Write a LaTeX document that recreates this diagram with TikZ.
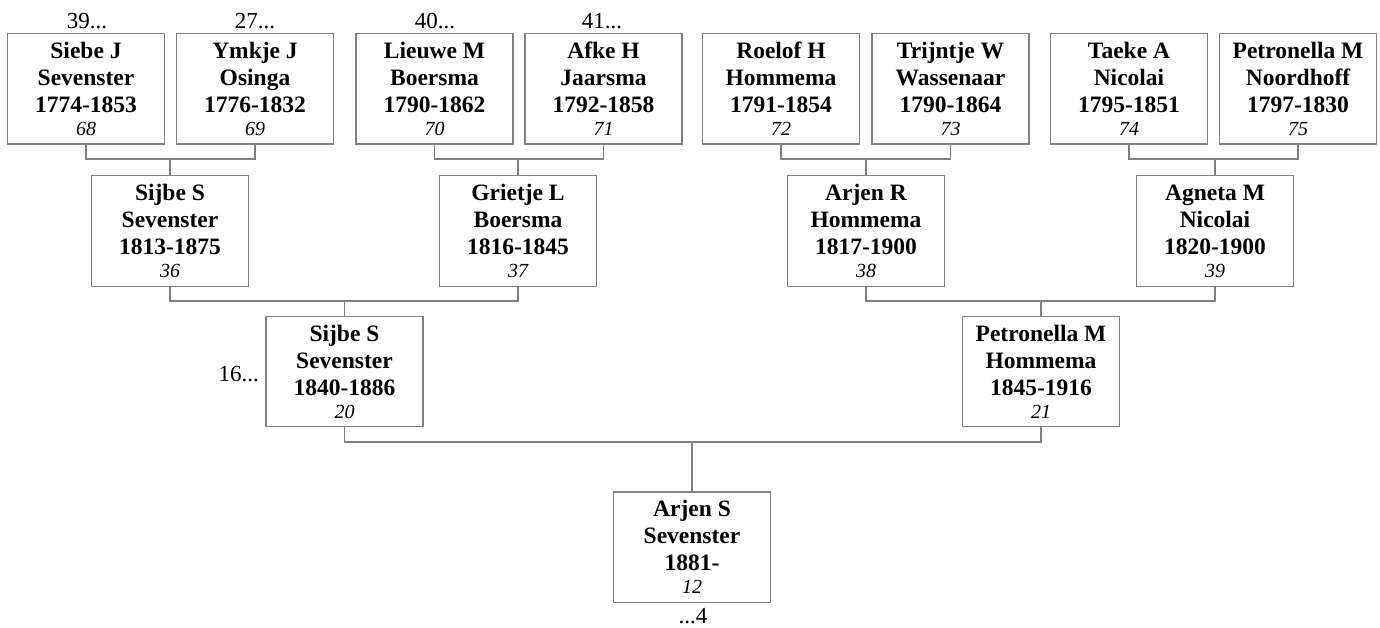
\documentclass[tikz,border=0pt]{standalone}
\usepackage{fontspec}
\setmainfont{Liberation Serif}
\definecolor{linec}{RGB}{128,128,128}
\tikzset{
  person/.style={draw=linec, line width=1.1pt, minimum width=157pt, minimum height=110pt, inner sep=0pt, font=\fontsize{23.5}{27}\selectfont\bfseries},
  conn/.style={draw=linec, line width=1.1pt},
  lbl/.style={inner sep=0pt, anchor=base, font=\fontsize{23}{27}\selectfont}
}
\newcommand\pinfo[4]{\begin{tabular}{@{}c@{}}\rule{0pt}{25pt}#1\\#2\\#3\\[-4pt]{\fontsize{20}{23}\selectfont\mdseries\itshape #4}\end{tabular}}
\begin{document}
\begin{tikzpicture}[x=1pt,y=-1pt]
\useasboundingbox (0,0) rectangle (1380,628);
% generation 4
\node[person] (p68) at (86,89)     {\pinfo{Siebe J}{Sevenster}{1774-1853}{68}};
\node[person] (p69) at (255,89)    {\pinfo{Ymkje J}{Osinga}{1776-1832}{69}};
\node[person] (p70) at (434.5,89)  {\pinfo{Lieuwe M}{Boersma}{1790-1862}{70}};
\node[person] (p71) at (603.5,89)  {\pinfo{Afke H}{Jaarsma}{1792-1858}{71}};
\node[person] (p72) at (781,89)    {\pinfo{Roelof H}{Hommema}{1791-1854}{72}};
\node[person] (p73) at (950.5,89)  {\pinfo{Trijntje W}{Wassenaar}{1790-1864}{73}};
\node[person] (p74) at (1129,89)   {\pinfo{Taeke A}{Nicolai}{1795-1851}{74}};
\node[person] (p75) at (1298,89)   {\pinfo{Petronella M}{Noordhoff}{1797-1830}{75}};
% generation 3
\node[person] (p36) at (170,231)   {\pinfo{Sijbe S}{Sevenster}{1813-1875}{36}};
\node[person] (p37) at (518,231)   {\pinfo{Grietje L}{Boersma}{1816-1845}{37}};
\node[person] (p38) at (866,231)   {\pinfo{Arjen R}{Hommema}{1817-1900}{38}};
\node[person] (p39) at (1215,231)  {\pinfo{Agneta M}{Nicolai}{1820-1900}{39}};
% generation 2
\node[person] (p20) at (344.5,371.5) {\pinfo{Sijbe S}{Sevenster}{1840-1886}{20}};
\node[person] (p21) at (1041,371.5)  {\pinfo{Petronella M}{Hommema}{1845-1916}{21}};
% generation 1
\node[person] (p12) at (692,547)   {\pinfo{Arjen S}{Sevenster}{1881-}{12}};
% labels
\node[lbl] (l39) at (87,29)  {39...};
\node[lbl] (l27) at (255,29) {27...};
\node[lbl] (l40) at (435,29) {40...};
\node[lbl] (l41) at (602,29) {41...};
\node[lbl, anchor=base east] (l16) at (259,381) {16...};
\node[lbl] (l4) at (693,623) {...4};
% junctions
\coordinate (j36) at (170,159);
\coordinate (j37) at (518,159);
\coordinate (j38) at (866,159);
\coordinate (j39) at (1215,159);
\coordinate (j20) at (344.5,301);
\coordinate (j21) at (1041,301);
\coordinate (j12) at (692,442);
% connectors
\draw[conn] (p68.south) |- (j36) -| (p69.south); \draw[conn] (j36) -- (p36.north);
\draw[conn] (p70.south) |- (j37) -| (p71.south); \draw[conn] (j37) -- (p37.north);
\draw[conn] (p72.south) |- (j38) -| (p73.south); \draw[conn] (j38) -- (p38.north);
\draw[conn] (p74.south) |- (j39) -| (p75.south); \draw[conn] (j39) -- (p39.north);
\draw[conn] (p36.south) |- (j20) -| (p37.south); \draw[conn] (j20) -- (p20.north);
\draw[conn] (p38.south) |- (j21) -| (p39.south); \draw[conn] (j21) -- (p21.north);
\draw[conn] (p20.south) |- (j12) -| (p21.south); \draw[conn] (j12) -- (p12.north);
\end{tikzpicture}
\end{document}
